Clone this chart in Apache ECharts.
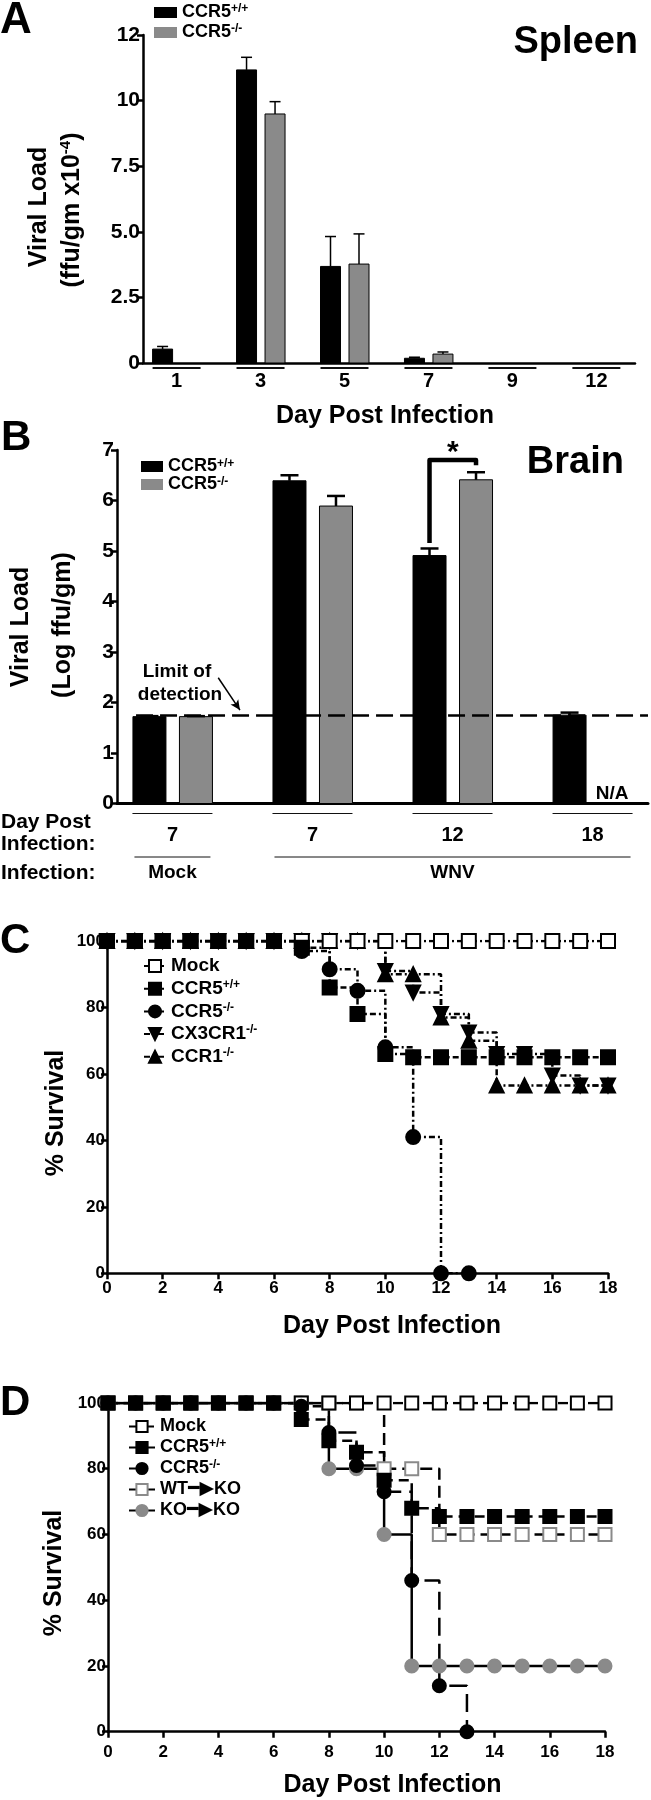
<!DOCTYPE html>
<html>
<head>
<meta charset="utf-8">
<script src="https://cdn.jsdelivr.net/npm/echarts@6/dist/echarts.min.js"></script>
<style>
html, body { margin: 0; padding: 0; background: #fff; }
#main { width: 651px; height: 1800px; }
</style>
</head>
<body>
<div id="main"></div>
<script>
var FONT = '"Liberation Sans", Arial, sans-serif';

// A - spleen viral load (ffu/gm x10^-4)
var daysA = ['1', '3', '5', '7', '9', '12'];
var spleenWT = [0.53, 11.17, 3.68, 0.18, 0, 0];
var spleenWTErr = [0.1, 0.48, 1.14, 0.04, 0, 0];
var spleenKO = [0, 9.49, 3.77, 0.34, 0, 0];
var spleenKOErr = [0, 0.47, 1.15, 0.08, 0, 0];
var tickLabelsA = ['0', '2.5', '5.0', '7.5', '10', '12'];

// B - brain viral load (log ffu/gm)
var daysB = ['7', '7', '12', '18'];
var groupNamesB = ['Mock', 'WNV'];
var groupStartB = [0, 1];
var groupEndB = [0, 3];
var brainWT = [1.72, 6.39, 4.91, 1.75];
var brainWTErr = [0.01, 0.11, 0.14, 0.05];
var brainKO = [1.72, 5.89, 6.41, null];
var brainKOErr = [0.01, 0.2, 0.15, 0];
var limitB = 1.74;
var bracketB = [2, 5.16, 6.8, 6.7];

// C - survival, days 0..18
var mockC = [100, 100, 100, 100, 100, 100, 100, 100, 100, 100, 100, 100, 100, 100, 100, 100, 100, 100, 100];
var ccr5wtC = [100, 100, 100, 100, 100, 100, 100, 98, 86, 78, 66, 65, 65, 65, 65, 65, 65, 65, 65];
var ccr5koC = [100, 100, 100, 100, 100, 100, 100, 97, 91.5, 85, 68, 41, 0, 0];
var cx3cr1C = [100, 100, 100, 100, 100, 100, 100, 100, 100, 100, 91, 84.5, 78, 72.5, 66, 66, 59.5, 56.5, 56.5];
var ccr1C = [100, 100, 100, 100, 100, 100, 100, 100, 100, 100, 90, 90, 77, 70, 56.5, 56.5, 56.5, 56.5, 56.5];

// D - survival, days 0..18
var mockD = [100, 100, 100, 100, 100, 100, 100, 100, 100, 100, 100, 100, 100, 100, 100, 100, 100, 100, 100];
var ccr5wtD = [100, 100, 100, 100, 100, 100, 100, 95, 88.5, 85, 76.5, 68, 65.5, 65.5, 65.5, 65.5, 65.5, 65.5, 65.5];
var ccr5koD = [100, 100, 100, 100, 100, 100, 100, 99, 91, 81, 73, 46, 14, 0];
var wtkoD = [100, 100, 100, 100, 100, 100, 100, 100, 100, 100, 80, 80, 60, 60, 60, 60, 60, 60, 60];
var kokoD = [100, 100, 100, 100, 100, 100, 100, 100, 80, 80, 60, 20, 20, 20, 20, 20, 20, 20, 20];

var legendText = {
    'A-WT': '{m|CCR5}{s|+/+}', 'A-KO': '{m|CCR5}{s|-/-}',
    'B-WT': '{m|CCR5}{s|+/+}', 'B-KO': '{m|CCR5}{s|-/-}',
    'C-Mock': '{m|Mock}', 'C-WT': '{m|CCR5}{s|+/+}', 'C-KO': '{m|CCR5}{s|-/-}',
    'C-CX3': '{m|CX3CR1}{s|-/-}', 'C-CCR1': '{m|CCR1}{s|-/-}',
    'D-Mock': '{m|Mock}', 'D-WT': '{m|CCR5}{s|+/+}', 'D-KO': '{m|CCR5}{s|-/-}',
    'D-WTKO': '{m|WT}{a|━▶}{m|KO}', 'D-KOKO': '{m|KO}{a|━▶}{m|KO}'
};

function bold(size) {
    return 'bold ' + size + 'px ' + FONT;
}

function richStyle(size, lh) {
    return {
        m: { fontSize: size, fontWeight: 'bold', fontFamily: FONT, color: '#000', lineHeight: lh },
        s: { fontSize: 12, fontWeight: 'bold', fontFamily: FONT, color: '#000', lineHeight: 12, verticalAlign: 'top' },
        a: { fontSize: 19, fontWeight: 'bold', fontFamily: '"DejaVu Sans"', color: '#000', lineHeight: lh }
    };
}

function barSeries(name, axis, values, errors, offset, width, capW, errW, color) {
    return {
        type: 'custom',
        name: name,
        xAxisIndex: axis,
        yAxisIndex: axis,
        encode: { x: 0, y: 1 },
        data: values.map(function (v, i) { return [i, v, errors[i]]; }),
        renderItem: function (params, api) {
            var k = api.value(0), v = api.value(1), e = api.value(2);
            var base = api.coord([k, 0]);
            var cx = base[0] + offset;
            if (isNaN(v) || v === null) {
                return {
                    type: 'text', x: cx - 4, y: base[1] - 10,
                    style: { text: 'N/A', font: bold(19), fill: '#000', align: 'center', verticalAlign: 'middle' }
                };
            }
            if (v <= 0) return null;
            var top = api.coord([k, v]);
            var children = [{
                type: 'rect',
                shape: { x: cx - width / 2, y: top[1], width: width, height: base[1] - top[1] },
                style: { fill: color, stroke: '#000', lineWidth: 1 }
            }];
            if (e > 0) {
                var et = api.coord([k, v + e]);
                children.push({ type: 'line', shape: { x1: cx, y1: top[1], x2: cx, y2: et[1] }, style: { stroke: '#000', lineWidth: errW } });
                children.push({ type: 'line', shape: { x1: cx - capW / 2, y1: et[1], x2: cx + capW / 2, y2: et[1] }, style: { stroke: '#000', lineWidth: errW } });
            }
            return { type: 'group', children: children };
        }
    };
}

function catSeries(name, axis, labels, half, lineOff, lineW, textOff, size) {
    return {
        type: 'custom',
        name: name,
        xAxisIndex: axis,
        yAxisIndex: axis,
        encode: { x: 0 },
        data: labels.map(function (l, i) { return [i]; }),
        renderItem: function (params, api) {
            var p = api.coord([api.value(0), 0]);
            return {
                type: 'group',
                children: [
                    { type: 'line', shape: { x1: p[0] - half, y1: p[1] + lineOff, x2: p[0] + half, y2: p[1] + lineOff }, style: { stroke: '#111', lineWidth: lineW } },
                    { type: 'text', x: p[0], y: p[1] + textOff, style: { text: labels[params.dataIndex], font: bold(size), fill: '#000', align: 'center', verticalAlign: 'middle' } }
                ]
            };
        }
    };
}

function survSeries(name, axis, values, symbol, size, fill, stroke, dash, rotate) {
    return {
        type: 'line',
        name: name,
        xAxisIndex: axis,
        yAxisIndex: axis,
        step: 'end',
        data: values.map(function (v, i) { return [i, v]; }),
        symbol: symbol,
        symbolSize: size,
        symbolRotate: rotate || 0,
        showSymbol: true,
        showAllSymbol: true,
        itemStyle: { color: fill, borderColor: stroke, borderWidth: 2, opacity: 1 },
        lineStyle: { color: '#000', width: 2.5, type: dash },
        emphasis: { disabled: true },
        silent: true
    };
}

function txt(s, x, y, size, align, rot, rich) {
    return {
        type: 'text', x: x, y: y, rotation: rot || 0, z: 100,
        style: { text: s, font: bold(size), fill: '#000', align: align || 'center', verticalAlign: 'middle', rich: rich }
    };
}

function catAxis(grid, min, max, lw) {
    return {
        type: 'value', gridIndex: grid, min: min, max: max,
        axisLine: { show: true, onZero: false, lineStyle: { color: '#000', width: lw } },
        axisTick: { show: false }, axisLabel: { show: false }, splitLine: { show: false }
    };
}

function numAxis(grid, min, max, interval, size, margin, extra) {
    var ax = {
        type: 'value', gridIndex: grid, min: min, max: max, interval: interval,
        axisLine: { show: true, onZero: false, lineStyle: { color: '#000', width: 2.5 } },
        axisTick: { show: true, length: 6, lineStyle: { color: '#000', width: 2.5 } },
        axisLabel: { color: '#000', fontWeight: 'bold', fontFamily: FONT, fontSize: size, margin: margin },
        splitLine: { show: false }
    };
    for (var key in extra) ax[key] = extra[key];
    return ax;
}

function legendBox(left, top, names, iw, ih, gap, size, lh, icons) {
    return {
        left: left, top: top, orient: 'vertical', padding: 0,
        itemWidth: iw, itemHeight: ih, itemGap: gap, selectedMode: false,
        data: names.map(function (n, i) { return icons ? { name: n, icon: 'rect', itemStyle: { color: icons[i], borderWidth: 0 } } : n; }),
        formatter: function (name) { return legendText[name]; },
        textStyle: { color: '#000', fontWeight: 'bold', fontFamily: FONT, fontSize: size, lineHeight: lh, rich: richStyle(size, lh) }
    };
}

var chart = echarts.init(document.getElementById('main'));

var option = {
    animation: false,
    backgroundColor: '#fff',
    grid: [
        { left: 143, top: 35, width: 492, height: 328, outerBoundsMode: 'none' },
        { left: 117, top: 450, width: 531, height: 353.5, outerBoundsMode: 'none' },
        { left: 107, top: 941, width: 501, height: 332.3, outerBoundsMode: 'none' },
        { left: 108, top: 1403, width: 497, height: 328.7, outerBoundsMode: 'none' }
    ],
    xAxis: [
        catAxis(0, -0.4, 5.46, 2.5),
        catAxis(1, -0.396, 3.396, 3),
        numAxis(2, 0, 18, 2, 17, 7, {}),
        numAxis(3, 0, 18, 2, 17, 12, {})
    ],
    yAxis: [
        numAxis(0, 0, 12.5, 2.5, 21, 3, {
            axisLabel: {
                color: '#000', fontWeight: 'bold', fontFamily: FONT, fontSize: 21, margin: 3,
                formatter: function (v) { return tickLabelsA[Math.round(v / 2.5)]; }
            }
        }),
        numAxis(1, 0, 7, 1, 21, 3, {}),
        numAxis(2, 0, 100, 20, 17, 2, {}),
        numAxis(3, 0, 100, 20, 17, 2, {})
    ],
    legend: [
        legendBox(154, 2.5, ['A-WT', 'A-KO'], 23, 11, 0, 18, 20, ['#000', '#8a8a8a']),
        legendBox(141, 457.5, ['B-WT', 'B-KO'], 22, 11, 0, 18, 18, ['#000', '#8a8a8a']),
        legendBox(143, 956, ['C-Mock', 'C-WT', 'C-KO', 'C-CX3', 'C-CCR1'], 22, 15, 2.7, 19, 20),
        legendBox(128, 1417, ['D-Mock', 'D-WT', 'D-KO', 'D-WTKO', 'D-KOKO'], 26, 14, 2, 18, 19)
    ],
    series: [
        barSeries('A-WT', 0, spleenWT, spleenWTErr, -14, 20, 11, 1.5, '#000'),
        barSeries('A-KO', 0, spleenKO, spleenKOErr, 14.5, 20, 11, 1.5, '#8a8a8a'),
        catSeries('A-days', 0, daysA, 24, 5, 2, 18.4, 20),

        barSeries('B-WT', 1, brainWT, brainWTErr, -23, 33, 18, 2.5, '#000'),
        (function () {
            var s = barSeries('B-KO', 1, brainKO, brainKOErr, 23.5, 33, 18, 2.5, '#8a8a8a');
            s.markLine = {
                silent: true,
                animation: false,
                label: { show: false },
                data: [
                    [{ coord: [-0.26, limitB], symbol: 'none', lineStyle: { color: '#000', width: 2.5, type: [17, 7] } },
                     { coord: [3.396, limitB], symbol: 'none' }],
                    [{ coord: [0.327, 2.49], symbol: 'none', lineStyle: { color: '#000', width: 1.5, type: 'solid' } },
                     { coord: [0.482, 1.85], symbol: 'arrow', symbolSize: [7, 10] }]
                ]
            };
            return s;
        })(),
        catSeries('B-days', 1, daysB, 40, 10, 1, 31.5, 20),
        {
            type: 'custom',
            name: 'B-groups',
            xAxisIndex: 1,
            yAxisIndex: 1,
            encode: { x: 0 },
            data: groupNamesB.map(function (g, i) { return [groupStartB[i], groupEndB[i]]; }),
            renderItem: function (params, api) {
                var a = api.coord([api.value(0), 0]);
                var b = api.coord([api.value(1), 0]);
                return {
                    type: 'group',
                    children: [
                        { type: 'line', shape: { x1: a[0] - 38, y1: a[1] + 53.5, x2: b[0] + 38, y2: a[1] + 53.5 }, style: { stroke: '#111', lineWidth: 1 } },
                        { type: 'text', x: (a[0] + b[0]) / 2, y: a[1] + 69.5, style: { text: groupNamesB[params.dataIndex], font: bold(19), fill: '#000', align: 'center', verticalAlign: 'middle' } }
                    ]
                };
            }
        },
        {
            type: 'custom',
            name: 'B-sig',
            xAxisIndex: 1,
            yAxisIndex: 1,
            encode: { x: 0, y: 1 },
            data: [bracketB],
            renderItem: function (params, api) {
                var k = api.value(0);
                var c = api.coord([k, api.value(1)]);
                var yt = api.coord([k, api.value(2)])[1];
                var ye = api.coord([k, api.value(3)])[1];
                var xl = c[0] - 23, xr = c[0] + 23.5;
                return {
                    type: 'group',
                    children: [
                        { type: 'polyline', shape: { points: [[xl, c[1]], [xl, yt], [xr, yt], [xr, ye]] }, style: { stroke: '#000', lineWidth: 4.5, fill: null, lineJoin: 'round' } },
                        { type: 'text', x: (xl + xr) / 2, y: yt - 7, style: { text: '*', font: bold(30), fill: '#000', align: 'center', verticalAlign: 'middle' } }
                    ]
                };
            }
        },

        survSeries('C-CX3', 2, cx3cr1C, 'triangle', 14, '#000', '#000', [6, 3, 2, 3], 180),
        survSeries('C-CCR1', 2, ccr1C, 'triangle', 14, '#000', '#000', [6, 3, 2, 3]),
        survSeries('C-Mock', 2, mockC, 'rect', 14, '#fff', '#000', [6, 3, 2, 3]),
        survSeries('C-KO', 2, ccr5koC, 'circle', 14, '#000', '#000', [6, 3, 2, 3]),
        survSeries('C-WT', 2, ccr5wtC, 'rect', 14, '#000', '#000', [6, 3, 2, 3]),

        survSeries('D-WTKO', 3, wtkoD, 'rect', 13, '#fff', '#8a8a8a', [12, 6]),
        survSeries('D-KOKO', 3, kokoD, 'circle', 13, '#8a8a8a', '#8a8a8a', 'solid'),
        survSeries('D-Mock', 3, mockD, 'rect', 13, '#fff', '#000', [10, 5]),
        survSeries('D-KO', 3, ccr5koD, 'circle', 13, '#000', '#000', [18, 8]),
        survSeries('D-WT', 3, ccr5wtD, 'rect', 13, '#000', '#000', [10, 6])
    ],
    graphic: {
        elements: [
            txt('A', 0, 21, 44, 'left'),
            txt('Spleen', 638, 42.5, 38, 'right'),
            txt('Viral Load', 39, 207, 25, 'center', Math.PI / 2),
            txt('{m|(ffu/gm x10}{s|-4}{m|)}', 72, 210, 25, 'center', Math.PI / 2, {
                m: { fontSize: 25, fontWeight: 'bold', fontFamily: FONT, color: '#000', lineHeight: 28 },
                s: { fontSize: 15, fontWeight: 'bold', fontFamily: FONT, color: '#000', lineHeight: 15, verticalAlign: 'top' }
            }),
            txt('Day Post Infection', 385, 416, 25),

            txt('B', 1, 438.5, 42, 'left'),
            txt('Brain', 624, 463, 38, 'right'),
            txt('Viral Load', 21, 627, 25, 'center', Math.PI / 2),
            txt('(Log ffu/gm)', 63, 625, 25, 'center', Math.PI / 2),
            txt('Limit of', 177, 672, 19),
            txt('detection', 180, 695, 19),
            txt('Day Post', 1, 822, 21, 'left'),
            txt('Infection:', 1, 844, 21, 'left'),
            txt('Infection:', 1, 873, 21, 'left'),

            txt('C', 0, 941.5, 42, 'left'),
            txt('% Survival', 56, 1113, 25, 'center', Math.PI / 2),
            txt('Day Post Infection', 392, 1326.5, 25),

            txt('D', 0, 1403.5, 42, 'left'),
            txt('% Survival', 54, 1573, 25, 'center', Math.PI / 2),
            txt('Day Post Infection', 392.5, 1785, 25)
        ]
    }
};

chart.setOption(option);
</script>
</body>
</html>
